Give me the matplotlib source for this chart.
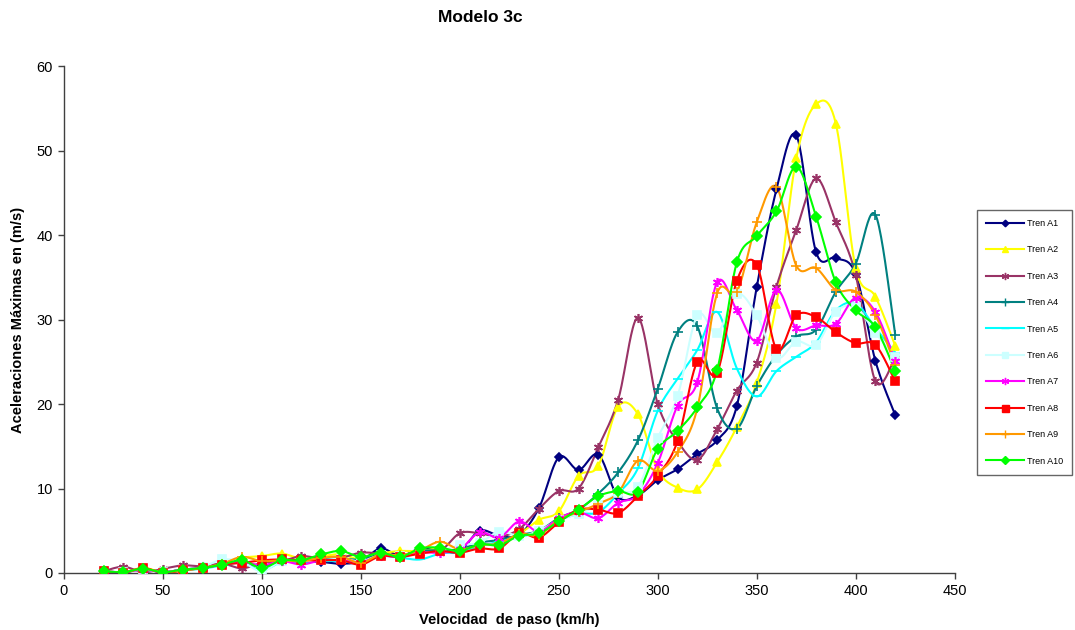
import numpy as np
import matplotlib
matplotlib.use("Agg")
import matplotlib.pyplot as plt

plt.rcParams['font.family'] = ['Liberation Sans', 'DejaVu Sans']

# Train speed (km/h)
velocidad = [20, 30, 40, 50, 60, 70, 80, 90, 100, 110, 120, 130, 140, 150, 160,
             170, 180, 190, 200, 210, 220, 230, 240, 250, 260, 270, 280, 290,
             300, 310, 320, 330, 340, 350, 360, 370, 380, 390, 400, 410, 420]

tren_a1 = [0.2, 0.1, 0.5, 0.1, 0.4, 0.6, 1.0, 1.3, 0.8, 1.4, 1.3, 1.3, 1.1, 1.4, 2.9,
           2.0, 2.9, 2.6, 2.6, 5.0, 4.4, 4.5, 7.7, 13.7, 12.2, 14.0, 9.0, 9.2,
           11.0, 12.3, 14.1, 15.7, 19.8, 33.8, 45.4, 51.8, 38.0, 37.3, 35.4, 25.1, 18.7]
tren_a2 = [0.2, 0.1, 0.6, 0.1, 0.3, 0.6, 1.1, 1.8, 2.0, 2.3, 1.7, 2.0, 2.2, 1.6, 2.3,
           2.6, 2.6, 2.9, 2.7, 3.3, 3.5, 4.6, 6.3, 7.3, 11.5, 12.7, 19.7, 18.8,
           12.2, 10.1, 9.9, 13.1, 17.3, 22.5, 31.9, 49.1, 55.5, 53.2, 36.1, 32.7, 26.9]
tren_a3 = [0.2, 0.75, 0.1, 0.5, 0.9, 0.8, 1.1, 0.55, 1.2, 1.4, 2.0, 1.7, 1.8, 2.4, 2.3,
           2.1, 2.6, 2.6, 4.7, 4.7, 4.3, 5.2, 7.6, 9.7, 10.0, 14.9, 20.5, 30.2,
           20.0, 15.6, 13.4, 17.0, 21.6, 24.9, 33.9, 40.6, 46.7, 41.5, 35.3, 22.7, 25.5]
tren_a4 = [0.2, 0.1, 0.4, 0.1, 0.4, 0.6, 1.0, 1.4, 0.7, 1.4, 1.4, 1.6, 1.7, 1.6, 2.2,
           2.0, 2.6, 2.7, 2.8, 3.6, 3.9, 4.5, 5.0, 6.5, 7.5, 9.4, 11.9, 15.7,
           21.8, 28.5, 29.2, 19.5, 17.1, 22.1, 25.8, 28.0, 28.8, 33.3, 36.6, 42.4, 28.2]
tren_a5 = [0.1, 0.1, 0.4, 0.1, 0.3, 0.5, 0.9, 1.2, 0.3, 1.3, 1.3, 1.4, 1.4, 1.2, 2.0,
           1.8, 1.6, 2.3, 2.5, 3.2, 3.7, 4.3, 4.8, 6.2, 7.0, 7.2, 9.4, 12.4,
           19.2, 23.0, 26.4, 30.9, 24.2, 20.9, 23.9, 25.6, 27.3, 31.1, 31.9, 29.0, 26.1]
tren_a6 = [0.2, 0.1, 0.4, 0.1, 0.4, 0.7, 1.6, 1.3, 0.2, 1.4, 1.4, 1.5, 1.7, 1.4, 2.1,
           2.0, 2.3, 2.6, 3.3, 3.6, 4.9, 4.4, 5.0, 6.3, 7.0, 8.0, 9.5, 10.2,
           16.0, 20.9, 30.5, 28.4, 33.0, 30.5, 25.5, 27.4, 27.0, 30.9, 31.5, 28.4, 25.6]
tren_a7 = [0.2, 0.1, 0.4, 0.1, 0.4, 0.6, 1.0, 1.3, 0.9, 1.4, 1.0, 1.5, 1.5, 1.3, 2.0,
           1.9, 2.4, 2.4, 2.8, 4.8, 4.2, 6.1, 4.9, 6.5, 7.2, 6.5, 8.3, 9.2,
           13.0, 19.8, 22.6, 34.4, 31.1, 27.5, 33.5, 29.0, 29.3, 29.5, 32.6, 30.9, 25.1]
tren_a8 = [0.2, 0.0, 0.6, 0.0, 0.3, 0.6, 1.0, 1.2, 1.5, 1.6, 1.5, 1.5, 1.5, 1.0, 2.0,
           1.9, 2.3, 2.6, 2.4, 2.9, 2.9, 4.7, 4.2, 6.0, 7.5, 7.5, 7.1, 9.1,
           11.5, 15.6, 25.0, 23.7, 34.6, 36.5, 26.5, 30.5, 30.3, 28.5, 27.2, 27.0, 22.7]
tren_a9 = [0.2, 0.1, 0.5, 0.1, 0.3, 0.6, 1.1, 1.9, 1.4, 1.5, 1.4, 1.8, 1.9, 1.2, 2.2,
           2.1, 2.7, 3.7, 2.8, 3.3, 3.5, 4.6, 4.5, 6.3, 7.2, 8.2, 9.5, 13.3,
           12.1, 14.3, 19.5, 33.1, 33.3, 41.5, 45.7, 36.4, 36.1, 33.5, 33.3, 30.5, 24.6]
tren_a10 = [0.2, 0.1, 0.5, 0.1, 0.4, 0.6, 1.0, 1.5, 0.6, 1.5, 1.5, 2.2, 2.6, 1.9, 2.4,
            1.9, 2.9, 3.0, 2.6, 3.4, 3.3, 4.4, 4.7, 6.1, 7.5, 9.1, 9.7, 9.6,
            14.7, 16.8, 19.6, 24.0, 36.8, 39.9, 42.8, 48.1, 42.2, 34.4, 31.1, 29.1, 23.9]

nombres = ["Tren A1", "Tren A2", "Tren A3", "Tren A4", "Tren A5",
           "Tren A6", "Tren A7", "Tren A8", "Tren A9", "Tren A10"]
series = [tren_a1, tren_a2, tren_a3, tren_a4, tren_a5,
          tren_a6, tren_a7, tren_a8, tren_a9, tren_a10]

estilos = [
    dict(color="#000080", marker="D", ms=4.2),
    dict(color="#FFFF00", marker="^", ms=5.5),
    dict(color="#993366", marker=(6, 2, 0), ms=6.5),
    dict(color="#008080", marker="+", ms=6.5),
    dict(color="#00FFFF", marker="_", ms=6.5),
    dict(color="#CCFFFF", marker="s", ms=6),
    dict(color="#FF00FF", marker=(6, 2, 0), ms=6.5),
    dict(color="#FF0000", marker="s", ms=6.3),
    dict(color="#FF9900", marker="+", ms=6.5),
    dict(color="#00FF00", marker="D", ms=4.8),
]


def suavizar(x, y, n=24):
    """Smoothed curve through the points using cubic Bezier segments."""
    x = np.asarray(x, float)
    y = np.asarray(y, float)
    p = np.column_stack([x, y])
    m = len(p)
    t = np.linspace(0, 1, n)[:, None]
    out = []
    for i in range(m - 1):
        p0 = p[i]
        p3 = p[i + 1]
        prev = p[i - 1] if i > 0 else p[i]
        nxt = p[i + 2] if i + 2 < m else p[i + 1]
        c1 = p0 + (p3 - prev) / 6.0
        c2 = p3 - (nxt - p0) / 6.0
        seg = ((1 - t) ** 3) * p0 + 3 * ((1 - t) ** 2) * t * c1 \
            + 3 * (1 - t) * t ** 2 * c2 + t ** 3 * p3
        out.append(seg if i == 0 else seg[1:])
    out = np.vstack(out)
    return out[:, 0], out[:, 1]


fig = plt.figure(figsize=(10.75, 6.3), dpi=100)
ax = fig.add_axes([0.0595, 0.0905, 0.8285, 0.8045])

handles = []
for nombre, vals, est in zip(nombres, series, estilos):
    xs, ys = suavizar(velocidad, vals)
    ax.plot(xs, ys, color=est["color"], lw=1.5, zorder=2)
    ax.plot(velocidad, vals, linestyle="none", marker=est["marker"],
            ms=est["ms"], color=est["color"], mec=est["color"], mew=1.2, zorder=3)
    h, = ax.plot([], [], color=est["color"], lw=1.5, marker=est["marker"],
                 ms=est["ms"] * 0.8, mec=est["color"], mew=1.0)
    handles.append(h)

ax.set_xlim(0, 450)
ax.set_ylim(0, 60)
ax.set_xticks(np.arange(0, 451, 50))
ax.set_yticks(np.arange(0, 61, 10))
for s in ["top", "right"]:
    ax.spines[s].set_visible(False)
for s in ["left", "bottom"]:
    ax.spines[s].set_color("#404040")
    ax.spines[s].set_linewidth(1.0)
ax.tick_params(axis="both", direction="out", length=4, width=1.0,
               color="#404040", labelsize=10.5, pad=4)

ax.set_xlabel("Velocidad  de paso (km/h)", fontsize=10.5, fontweight="bold", labelpad=11)
ax.set_ylabel("Aceleraciones Máximas en (m/s)", fontsize=10.5, fontweight="bold", labelpad=8)
fig.text(0.447, 0.972, "Modelo 3c", ha="center", va="center",
         fontsize=12.5, fontweight="bold")

leg = fig.legend(handles, nombres, loc="upper left",
                 bbox_to_anchor=(0.909, 0.667), fontsize=6.5,
                 frameon=True, fancybox=False, edgecolor="#404040",
                 labelspacing=1.93, handlelength=4.2, handletextpad=0.3,
                 borderpad=1.0, borderaxespad=0)
leg.get_frame().set_linewidth(1.0)

fig.savefig("out.png", dpi=100)
